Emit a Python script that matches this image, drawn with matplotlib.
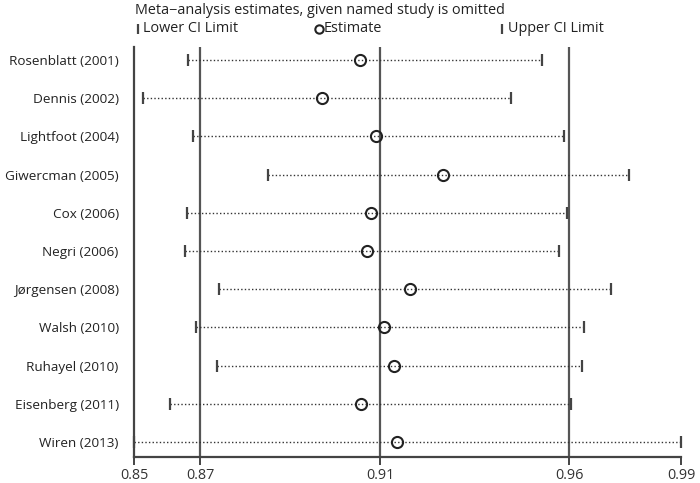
import matplotlib
matplotlib.use("Agg")
import matplotlib.pyplot as plt
from matplotlib.lines import Line2D

plt.rcParams['font.family'] = ['Open Sans', 'DejaVu Sans']

studies = ["Rosenblatt (2001)", "Dennis (2002)", "Lightfoot (2004)", "Giwercman (2005)",
           "Cox (2006)", "Negri (2006)", "Jørgensen (2008)", "Walsh (2010)",
           "Ruhayel (2010)", "Eisenberg (2011)", "Wiren (2013)"]
lower = [0.8644, 0.8532, 0.8658, 0.8844, 0.8642, 0.8638, 0.8723, 0.8666, 0.8718, 0.8601, 0.8510]
estimate = [0.9075, 0.8980, 0.9114, 0.9283, 0.9103, 0.9092, 0.9199, 0.9136, 0.9161, 0.9078, 0.9167]
upper = [0.9530, 0.9452, 0.9585, 0.9747, 0.9593, 0.9573, 0.9702, 0.9634, 0.9629, 0.9603, 0.98775]

# overall pooled estimate and its CI (vertical reference lines)
overall = [0.8675, 0.9125, 0.95975]
tick_vals = [0.851, 0.8675, 0.9125, 0.95975, 0.98775]
tick_labels = ["0.85", "0.87", "0.91", "0.96", "0.99"]

fig = plt.figure(figsize=(7, 4.83), dpi=100)
ax = fig.add_axes([0.1914, 0.0538, 0.7815, 0.8489])

col = "#333333"
fs = 10.4
ypos = list(range(len(studies)))

for v in overall:
    ax.axvline(v, color="#555555", lw=1.6, zorder=1)

for y, lo, est, up in zip(ypos, lower, estimate, upper):
    ax.plot([lo, up], [y, y], color=col, lw=1.0, ls=(0, (1, 1.6)), zorder=2, clip_on=False)
ax.plot(lower, ypos, ls="none", marker="|", ms=9, mew=1.6, color="#444444", zorder=3, clip_on=False)
ax.plot(upper, ypos, ls="none", marker="|", ms=9, mew=1.6, color="#444444", zorder=3, clip_on=False)
ax.plot(estimate, ypos, ls="none", marker="o", ms=8, mew=1.5, mfc="none", mec="#222222",
        zorder=4, clip_on=False)

ax.set_xlim(tick_vals[0], tick_vals[-1])
ax.set_ylim(10.39, -0.34)
ax.set_xticks(tick_vals)
ax.set_xticklabels(tick_labels, fontsize=fs, color="#333333")
ax.set_yticks(ypos)
ax.set_yticklabels(studies, fontsize=9.7, color="#222222")
ax.tick_params(axis="y", length=0, pad=11)
ax.tick_params(axis="x", length=6, width=1.4, color="#444444", pad=2)
for s in ["top", "right"]:
    ax.spines[s].set_visible(False)
for s in ["left", "bottom"]:
    ax.spines[s].set_color("#444444")
    ax.spines[s].set_linewidth(1.6)

fig.text(135 / 700, 1 - 10 / 483, "Meta\u2212analysis estimates, given named study is omitted",
         fontsize=fs, color="#222222", va="center", ha="left")

# legend row
ly = 1 - 29 / 483
fig.add_artist(Line2D([138 / 700], [ly], marker="|", ms=7, mew=1.6, color="#444444", ls="none"))
fig.text(143 / 700, ly, "Lower CI Limit", fontsize=fs, color="#222222", va="center")
fig.add_artist(Line2D([319 / 700], [ly], marker="o", ms=6, mew=1.5, mfc="none", mec="#222222", ls="none"))
fig.text(324 / 700, ly, "Estimate", fontsize=fs, color="#222222", va="center")
fig.add_artist(Line2D([502 / 700], [ly], marker="|", ms=7, mew=1.6, color="#444444", ls="none"))
fig.text(508 / 700, ly, "Upper CI Limit", fontsize=fs, color="#222222", va="center")

fig.savefig("out.png", dpi=100)
